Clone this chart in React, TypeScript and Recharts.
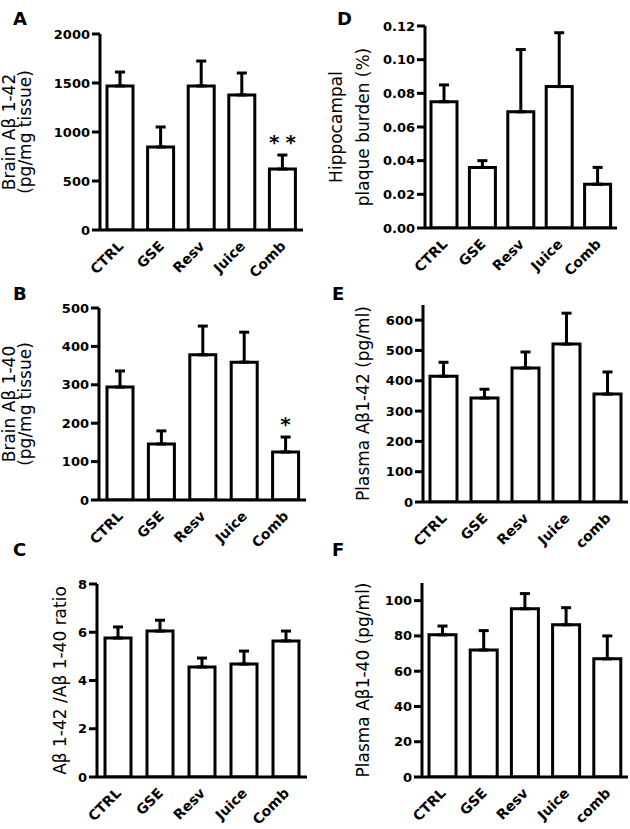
import React from "react";
import { BarChart, Bar, XAxis, YAxis, ErrorBar, LabelList } from "recharts";

const groups = ["CTRL", "GSE", "Resv", "Juice", "Comb"];
const plasmaGroups = ["CTRL", "GSE", "Resv", "Juice", "comb"];

// A - brain Abeta 1-42
const brain42Mean = [1470, 847, 1470, 1378, 622];
const brain42Top = [1612, 1051, 1724, 1602, 765];
const brain42Sig = ["", "", "", "", "**"];
const brain42Ticks = [0, 500, 1000, 1500, 2000];

// B - brain Abeta 1-40
const brain40Mean = [294, 146, 378, 359, 125];
const brain40Top = [336, 180, 453, 437, 164];
const brain40Sig = ["", "", "", "", "*"];
const brain40Ticks = [0, 100, 200, 300, 400, 500];

// C - ratio
const ratioMean = [5.76, 6.05, 4.56, 4.68, 5.64];
const ratioTop = [6.22, 6.5, 4.93, 5.22, 6.05];
const ratioTicks = [0, 2, 4, 6, 8];

// D - plaque burden
const plaqueMean = [0.075, 0.036, 0.069, 0.084, 0.026];
const plaqueTop = [0.085, 0.04, 0.106, 0.116, 0.036];
const plaqueTicks = [0, 0.02, 0.04, 0.06, 0.08, 0.1, 0.12];

// E - plasma Abeta 1-42
const plasma42Mean = [415, 343, 442, 521, 356];
const plasma42Top = [461, 372, 495, 623, 429];
const plasma42Ticks = [0, 100, 200, 300, 400, 500, 600];

// F - plasma Abeta 1-40
const plasma40Mean = [80.6, 72, 95.4, 86.3, 67];
const plasma40Top = [85.6, 83, 104, 96, 80];
const plasma40Ticks = [0, 20, 40, 60, 80, 100];

type Row = { name: string; mean: number; top: number; err: number[]; sig: string };

const makeRows = (names: string[], mean: number[], top: number[], sig?: string[]): Row[] =>
  names.map((name, i) => ({
    name,
    mean: mean[i],
    top: top[i],
    err: [0, top[i] - mean[i]],
    sig: sig ? sig[i] : "",
  }));

const font = "DejaVu Sans";

const XTick = (props: any) => {
  const { x, y, payload } = props;
  const ax = x + 4;
  const ay = y + 17;
  return (
    <text
      x={ax}
      y={ay}
      transform={`rotate(-45 ${ax} ${ay})`}
      textAnchor="end"
      fontFamily={font}
      fontWeight="bold"
      fontSize={14}
      fill="#000"
    >
      {payload.value}
    </text>
  );
};

const YTick = (props: any) => {
  const { x, y, payload, fmt } = props;
  const v = fmt ? fmt(payload.value) : String(payload.value);
  return (
    <text x={x} y={y} dy={4.5} textAnchor="end" fontFamily={font} fontWeight="bold" fontSize={13} fill="#000">
      {v}
    </text>
  );
};

interface PanelProps {
  rows: Row[];
  x0: number;
  plotLeft: number;
  plotRight: number;
  plotTop: number;
  plotBottom: number;
  domain: [number, number];
  ticks: number[];
  fmt?: (v: number) => string;
  labels: { text: string; x: number }[];
  barSize: number;
}

const Panel = ({ rows, x0, plotLeft, plotRight, plotTop, plotBottom, domain, ticks, fmt, labels, barSize }: PanelProps) => {
  const chartTop = plotTop - 12;
  const W = plotRight - x0 + 6;
  const xAxisH = Math.min(60, 829 - plotBottom);
  const H = plotBottom - chartTop + xAxisH;
  const cy = (plotTop + plotBottom) / 2 - chartTop;

  const axisLabel = (
    <g>
      {labels.map((l) => (
        <text
          key={l.text}
          x={l.x - x0}
          y={cy}
          transform={`rotate(-90 ${l.x - x0} ${cy})`}
          textAnchor="middle"
          fontFamily={font}
          fontSize={17}
          fill="#000"
        >
          {l.text}
        </text>
      ))}
    </g>
  );

  const starLabel = (props: any) => {
    const { value } = props;
    if (!value) return null;
    const r = rows.find((d) => d.sig === value);
    if (!r) return null;
    const vb = props.viewBox || props;
    const bx = Number(vb.x);
    const by = Number(vb.y);
    const bw = Number(vb.width);
    const bh = Number(vb.height);
    const base = by + bh;
    const errY = base - (r.top * bh) / r.mean;
    return (
      <text
        x={bx + bw / 2 + 3}
        y={errY - 6}
        textAnchor="middle"
        fontFamily={font}
        fontWeight="bold"
        fontSize={20}
        letterSpacing={6}
        fill="#000"
      >
        {value}
      </text>
    );
  };

  return (
    <div style={{ position: "absolute", left: x0, top: chartTop }}>
      <BarChart width={W} height={H} data={rows} margin={{ top: 12, right: 6, bottom: 0, left: 0 }}>
        <XAxis
          dataKey="name"
          axisLine={{ stroke: "#000", strokeWidth: 3 }}
          tickLine={false}
          tickSize={0}
          tickMargin={0}
          height={xAxisH}
          interval={0}
          tick={<XTick />}
        />
        <YAxis
          width={plotLeft - x0}
          domain={domain}
          ticks={ticks}
          interval={0}
          allowDataOverflow
          axisLine={{ stroke: "#000", strokeWidth: 3 }}
          tickLine={{ stroke: "#000", strokeWidth: 3 }}
          tickSize={8}
          tickMargin={2}
          tick={<YTick fmt={fmt} />}
          label={axisLabel}
        />
        <Bar dataKey="mean" fill="#fff" stroke="#000" strokeWidth={3} barSize={barSize} isAnimationActive={false}>
          <ErrorBar dataKey="err" width={5} stroke="#000" strokeWidth={3} direction="y" isAnimationActive={false} />
          <LabelList dataKey="sig" content={starLabel} />
        </Bar>
      </BarChart>
    </div>
  );
};

const letters = [
  { t: "A", x: 13, y: 25 },
  { t: "D", x: 337, y: 25 },
  { t: "B", x: 13, y: 300 },
  { t: "E", x: 332, y: 300 },
  { t: "C", x: 13, y: 556 },
  { t: "F", x: 332, y: 556 },
];

const App = () => {
  return (
    <div style={{ position: "absolute", left: 0, top: 0, width: 630, height: 829, background: "#fff", overflow: "hidden" }}>
      <Panel
        rows={makeRows(groups, brain42Mean, brain42Top, brain42Sig)}
        x0={0}
        plotLeft={100}
        plotRight={303}
        plotTop={34}
        plotBottom={230}
        domain={[0, 2000]}
        ticks={brain42Ticks}
        labels={[
          { text: "Brain Aβ 1-42", x: 15 },
          { text: "(pg/mg tissue)", x: 31 },
        ]}
        barSize={26}
      />
      <Panel
        rows={makeRows(groups, brain40Mean, brain40Top, brain40Sig)}
        x0={0}
        plotLeft={99}
        plotRight={306}
        plotTop={308}
        plotBottom={500}
        domain={[0, 500]}
        ticks={brain40Ticks}
        labels={[
          { text: "Brain Aβ 1-40", x: 15 },
          { text: "(pg/mg tissue)", x: 31 },
        ]}
        barSize={26}
      />
      <Panel
        rows={makeRows(groups, ratioMean, ratioTop)}
        x0={0}
        plotLeft={97}
        plotRight={307}
        plotTop={584}
        plotBottom={777}
        domain={[0, 8]}
        ticks={ratioTicks}
        labels={[{ text: "Aβ 1-42 /Aβ 1-40 ratio", x: 66 }]}
        barSize={26}
      />
      <Panel
        rows={makeRows(groups, plaqueMean, plaqueTop)}
        x0={315}
        plotLeft={425}
        plotRight={617}
        plotTop={26}
        plotBottom={228}
        domain={[0, 0.12]}
        ticks={plaqueTicks}
        fmt={(v) => v.toFixed(2)}
        labels={[
          { text: "Hippocampal", x: 342 },
          { text: "plaque burden (%)", x: 369 },
        ]}
        barSize={26}
      />
      <Panel
        rows={makeRows(plasmaGroups, plasma42Mean, plasma42Top)}
        x0={315}
        plotLeft={423}
        plotRight={628}
        plotTop={305}
        plotBottom={502}
        domain={[0, 650]}
        ticks={plasma42Ticks}
        labels={[{ text: "Plasma Aβ1-42 (pg/ml)", x: 369 }]}
        barSize={27}
      />
      <Panel
        rows={makeRows(plasmaGroups, plasma40Mean, plasma40Top)}
        x0={315}
        plotLeft={422}
        plotRight={628}
        plotTop={583}
        plotBottom={777}
        domain={[0, 110]}
        ticks={plasma40Ticks}
        labels={[{ text: "Plasma Aβ1-40 (pg/ml)", x: 369 }]}
        barSize={27}
      />
      <svg width={630} height={829} style={{ position: "absolute", left: 0, top: 0, pointerEvents: "none" }}>
        {letters.map((l) => (
          <text key={l.t} x={l.x} y={l.y} fontFamily={font} fontWeight="bold" fontSize={18} fill="#000">
            {l.t}
          </text>
        ))}
      </svg>
    </div>
  );
};

export default App;
